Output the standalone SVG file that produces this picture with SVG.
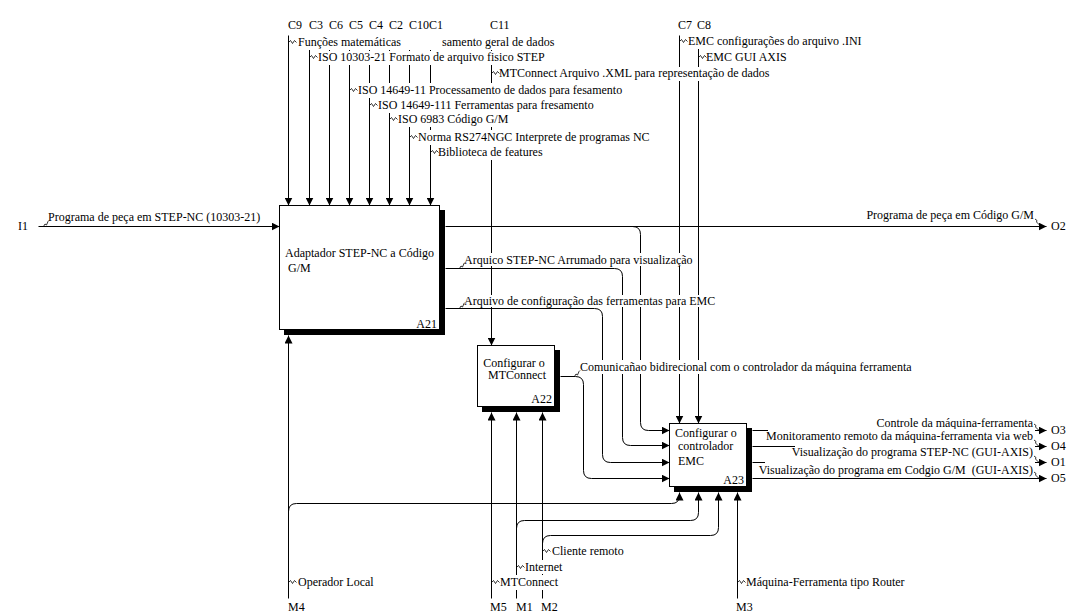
<svg xmlns="http://www.w3.org/2000/svg" xmlns:xlink="http://www.w3.org/1999/xlink" width="1068" height="613" viewBox="0 0 1068 613">
  <style>
    .ln { fill: none; stroke: #000; stroke-width: 1; }
    .arr { marker-end: url(#ah); }
    .t { font-family: "Liberation Serif", "Times New Roman", serif; font-size: 12px; fill: #000; }
    .bg { fill: #fff; }
    .sq { fill: none; stroke: #000; stroke-width: 0.8; }
    .box { fill: #fff; stroke: #000; stroke-width: 1; }
    .shadow { fill: #000; }
  </style>
  <defs>
    <marker id="ah" markerUnits="userSpaceOnUse" markerWidth="9" markerHeight="8" refX="8" refY="4" orient="auto">
      <path d="M0,0 L8,4 L0,8 z" fill="#000"/>
    </marker>
    <!-- label ticks: sideways from a vertical line, upward from a horizontal line, down into an output -->
    <path id="sq" class="sq" d="M0,0 l2,-2 l2,3 l2,-3 l2,2"/>
    <path id="squ" class="sq" d="M0,0 l1.5,-2.5 l1.5,1 l1.5,-3.5 l1,-1"/>
    <path id="sqd" class="sq" d="M0,0 l2,1.5 l-0.5,1.5 l3,3 l1.5,1"/>
  </defs>

  <rect width="1068" height="613" fill="#fff"/>

  <!-- arrows -->
  <g id="connectors" transform="translate(0.5,0.5)">
    <!-- input -->
    <path class="ln arr" d="M38,226 H279"/>
    <!-- controls of A21 -->
    <path class="ln arr" d="M288,35 V205"/>
    <path class="ln arr" d="M309,35 V205"/>
    <path class="ln arr" d="M329,35 V205"/>
    <path class="ln arr" d="M349,35 V205"/>
    <path class="ln arr" d="M369,35 V205"/>
    <path class="ln arr" d="M389,35 V205"/>
    <path class="ln arr" d="M409,35 V205"/>
    <path class="ln arr" d="M430,35 V205"/>
    <!-- control of A22 -->
    <path class="ln arr" d="M491,35 V345"/>
    <!-- controls of A23 -->
    <path class="ln arr" d="M679,35 V423"/>
    <path class="ln arr" d="M698,35 V423"/>
    <!-- outputs of A21 -->
    <path class="ln arr" d="M445,226 H1046"/>
    <path class="ln arr" d="M632,226 Q640,226 640,234 V422 Q640,430 648,430 H669"/>
    <path class="ln arr" d="M445,268 H614 Q622,268 622,276 V437 Q622,445 630,445 H669"/>
    <path class="ln arr" d="M445,308 H594 Q602,308 602,316 V454 Q602,462 610,462 H669"/>
    <!-- output of A22 -->
    <path class="ln arr" d="M560,376 H575 Q583,376 583,384 V470 Q583,478 591,478 H669"/>
    <!-- mechanisms -->
    <path class="ln arr" d="M288,598 V335"/>
    <path class="ln arr" d="M288,511 Q288,503 296,503 H671 Q679,503 679,495 V492"/>
    <path class="ln arr" d="M491,598 V412"/>
    <path class="ln arr" d="M516,598 V412"/>
    <path class="ln arr" d="M516,528 Q516,520 524,520 H690 Q698,520 698,512 V492"/>
    <path class="ln arr" d="M542,598 V412"/>
    <path class="ln arr" d="M542,543 Q542,535 550,535 H710 Q718,535 718,527 V492"/>
    <path class="ln arr" d="M737,598 V492"/>
    <!-- outputs of A23 -->
    <path class="ln arr" d="M752,430 H1046"/>
    <path class="ln arr" d="M752,446 H1046"/>
    <path class="ln arr" d="M752,462 H1046"/>
    <path class="ln arr" d="M752,478 H1046"/>
  </g>

  <!-- arrow labels -->
  <g id="labels">
    <!-- boundary codes -->
    <text class="t" x="18" y="230">I1</text>
    <text class="t" x="288" y="29">C9</text>
    <text class="t" x="309" y="29">C3</text>
    <text class="t" x="329" y="29">C6</text>
    <text class="t" x="349" y="29">C5</text>
    <text class="t" x="369" y="29">C4</text>
    <text class="t" x="389" y="29">C2</text>
    <text class="t" x="409" y="29">C10</text>
    <text class="t" x="429" y="29">C1</text>
    <text class="t" x="490" y="29">C11</text>
    <text class="t" x="678" y="29">C7</text>
    <text class="t" x="697" y="29">C8</text>
    <text class="t" x="1051" y="230">O2</text>
    <text class="t" x="1051" y="434">O3</text>
    <text class="t" x="1051" y="450">O4</text>
    <text class="t" x="1051" y="466">O1</text>
    <text class="t" x="1051" y="482">O5</text>
    <text class="t" x="288" y="611">M4</text>
    <text class="t" x="490" y="611">M5</text>
    <text class="t" x="516" y="611">M1</text>
    <text class="t" x="541" y="611">M2</text>
    <text class="t" x="736" y="611">M3</text>

    <!-- input label -->
    <use href="#squ" x="43.5" y="226.5"/>
    <text class="t" x="48" y="221">Programa de peça em STEP-NC (10303-21)</text>

    <!-- control labels -->
    <rect class="bg" x="296" y="35" width="257" height="15"/>
    <use href="#sq" x="288.5" y="42.5"/>
    <text class="t" x="298" y="46">Funções matemáticas</text>
    <text class="t" x="442" y="46">samento geral de dados</text>

    <rect class="bg" x="317" y="51" width="228" height="14"/>
    <use href="#sq" x="309.5" y="57.5"/>
    <text class="t" x="318" y="61">ISO 10303-21 Formato de arquivo fisico STEP</text>

    <rect class="bg" x="498" y="67" width="273" height="14"/>
    <use href="#sq" x="491.5" y="73.5"/>
    <text class="t" x="499" y="77">MTConnect Arquivo .XML para representação de dados</text>

    <rect class="bg" x="357" y="83" width="268" height="15"/>
    <use href="#sq" x="349.5" y="90.5"/>
    <text class="t" x="358" y="94">ISO 14649-11 Processamento de dados para fesamento</text>

    <rect class="bg" x="376" y="98" width="220" height="15"/>
    <use href="#sq" x="369.5" y="105.5"/>
    <text class="t" x="378" y="109">ISO 14649-111 Ferramentas para fresamento</text>

    <rect class="bg" x="397" y="112" width="114" height="15"/>
    <use href="#sq" x="389.5" y="119.5"/>
    <text class="t" x="398" y="123">ISO 6983 Código G/M</text>

    <rect class="bg" x="417" y="130" width="236" height="15"/>
    <use href="#sq" x="409.5" y="137.5"/>
    <text class="t" x="418" y="141">Norma RS274NGC Interprete de programas NC</text>

    <rect class="bg" x="437" y="145" width="107" height="15"/>
    <use href="#sq" x="430.5" y="152.5"/>
    <text class="t" x="438" y="156">Biblioteca de features</text>

    <rect class="bg" x="687" y="35" width="186" height="14"/>
    <use href="#sq" x="679.5" y="41.5"/>
    <text class="t" x="688" y="45">EMC configurações do arquivo .INI</text>

    <rect class="bg" x="705" y="51" width="88" height="14"/>
    <use href="#sq" x="698.5" y="57.5"/>
    <text class="t" x="706" y="61">EMC GUI AXIS</text>

    <!-- labels of the internal arrows -->
    <text class="t" x="1034" y="219" text-anchor="end">Programa de peça em Código G/M</text>
    <use href="#sqd" x="1035" y="219"/>

    <rect class="bg" x="463" y="253" width="230" height="13"/>
    <use href="#squ" x="459.5" y="268.5"/>
    <text class="t" x="464" y="264">Arquico STEP-NC Arrumado para visualização</text>

    <rect class="bg" x="463" y="295" width="252" height="12"/>
    <use href="#squ" x="459.5" y="308.5"/>
    <text class="t" x="464" y="305">Arquivo de configuração das ferramentas para EMC</text>

    <rect class="bg" x="579" y="360" width="327" height="14"/>
    <use href="#squ" x="574.5" y="376.5"/>
    <text class="t" x="580" y="371">Comunicañao bidirecional com o controlador da máquina ferramenta</text>

    <!-- output labels of A23 -->
    <rect class="bg" x="882" y="416" width="153" height="13"/>
    <text class="t" x="1033" y="427" text-anchor="end">Controle da máquina-ferramenta</text>
    <use href="#sqd" x="1034" y="424"/>

    <rect class="bg" x="768" y="429" width="267" height="14"/>
    <text class="t" x="1033" y="440" text-anchor="end">Monitoramento remoto da máquina-ferramenta via web</text>
    <use href="#sqd" x="1034" y="440"/>

    <rect class="bg" x="795" y="445" width="240" height="14"/>
    <text class="t" x="1033" y="456" text-anchor="end">Visualização do programa STEP-NC (GUI-AXIS)</text>
    <use href="#sqd" x="1034" y="456"/>

    <rect class="bg" x="765" y="461" width="270" height="16"/>
    <text class="t" x="1033" y="474" text-anchor="end">Visualização do programa em Codgio G/M&#160; (GUI-AXIS)</text>
    <use href="#sqd" x="1034" y="472"/>

    <!-- mechanism labels -->
    <rect class="bg" x="296" y="575" width="80" height="14"/>
    <use href="#sq" x="288.5" y="582.5"/>
    <text class="t" x="298" y="586">Operador Local</text>

    <rect class="bg" x="498" y="575" width="66" height="15"/>
    <use href="#sq" x="491.5" y="582.5"/>
    <text class="t" x="500" y="586">MTConnect</text>

    <rect class="bg" x="523" y="560" width="42" height="14"/>
    <use href="#sq" x="516.5" y="567.5"/>
    <text class="t" x="525" y="571">Internet</text>

    <rect class="bg" x="550" y="544" width="74" height="14"/>
    <use href="#sq" x="542.5" y="551.5"/>
    <text class="t" x="552" y="555">Cliente remoto</text>

    <use href="#sq" x="737.5" y="582.5"/>
    <text class="t" x="746" y="586">Máquina-Ferramenta tipo Router</text>
  </g>

  <!-- activity boxes -->
  <g id="A21">
    <rect class="shadow" x="284" y="210" width="161" height="125"/>
    <rect class="box" x="279.5" y="205.5" width="160" height="124"/>
    <text class="t" x="285" y="257">Adaptador STEP-NC a Código</text>
    <text class="t" x="288" y="272">G/M</text>
    <text class="t" x="437" y="328" text-anchor="end">A21</text>
  </g>

  <g id="A22">
    <rect class="shadow" x="482" y="350" width="78" height="62"/>
    <rect class="box" x="477.5" y="345.5" width="77" height="61"/>
    <text class="t" x="514" y="367" text-anchor="middle">Configurar o</text>
    <text class="t" x="517" y="379" text-anchor="middle">MTConnect</text>
    <text class="t" x="552" y="403" text-anchor="end">A22</text>
  </g>

  <g id="A23">
    <rect class="shadow" x="674" y="428" width="78" height="64"/>
    <rect class="box" x="669.5" y="423.5" width="77" height="63"/>
    <text class="t" x="675" y="437">Configurar o</text>
    <text class="t" x="678" y="450">controlador</text>
    <text class="t" x="678" y="465">EMC</text>
    <text class="t" x="744" y="484" text-anchor="end">A23</text>
  </g>
</svg>
